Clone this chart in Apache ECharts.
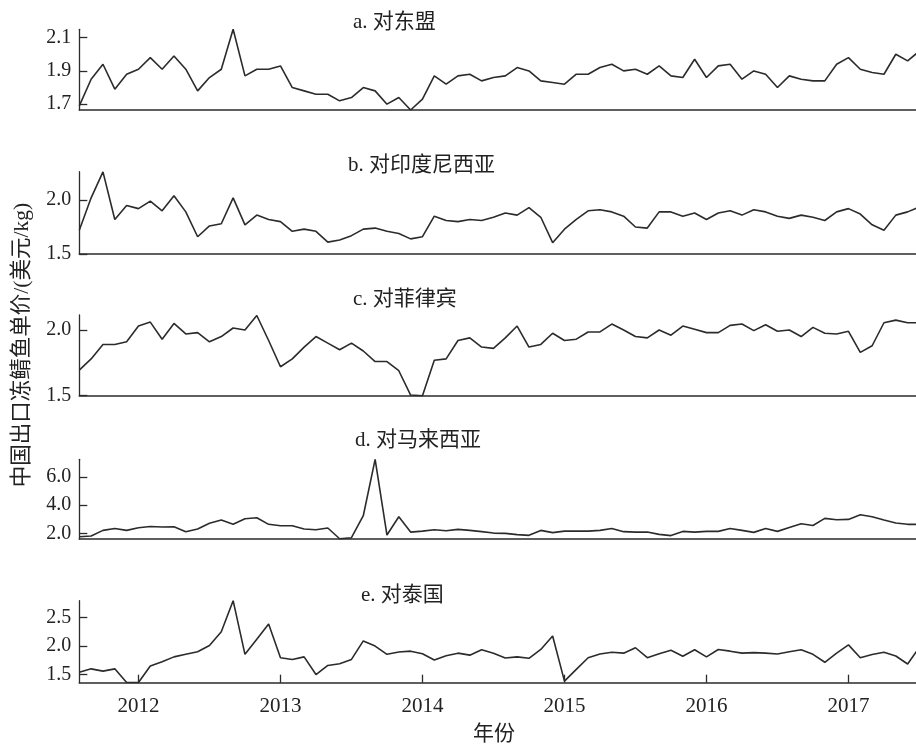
<!DOCTYPE html>
<html>
<head>
<meta charset="utf-8">
<script src="https://cdn.jsdelivr.net/npm/echarts@6/dist/echarts.min.js"></script>
<style>
  html, body { margin: 0; padding: 0; background: #fff; }
  #chart { width: 916px; height: 745px; }
</style>
</head>
<body>
<div id="chart"></div>
<script>
// Monthly observations, August 2011 to July 2017
const months = [];
for (let y = 2011, m = 8; months.length < 72; m++) {
  if (m > 12) { m = 1; y++; }
  months.push(y + '-' + String(m).padStart(2, '0'));
}

const yearLabels = ['2012', '2013', '2014', '2015', '2016', '2017'];

// Unit export price of frozen mackerel, USD/kg
const asean = [1.69,1.85,1.94,1.79,1.88,1.91,1.98,1.91,1.99,1.91,1.78,1.86,1.91,2.15,1.87,1.91,1.91,1.93,1.80,1.78,1.76,1.76,1.72,1.74,1.80,1.78,1.70,1.74,1.665,1.73,1.87,1.82,1.87,1.88,1.84,1.86,1.87,1.92,1.90,1.84,1.83,1.82,1.88,1.88,1.92,1.94,1.90,1.91,1.88,1.93,1.87,1.86,1.97,1.86,1.93,1.94,1.85,1.90,1.88,1.80,1.87,1.85,1.84,1.84,1.94,1.98,1.91,1.89,1.88,2.00,1.96,2.02];
const indonesia = [1.72,2.02,2.26,1.82,1.95,1.92,1.99,1.90,2.04,1.89,1.66,1.76,1.78,2.02,1.77,1.86,1.82,1.80,1.71,1.73,1.71,1.61,1.63,1.67,1.73,1.74,1.71,1.69,1.64,1.66,1.85,1.81,1.80,1.82,1.81,1.84,1.88,1.86,1.93,1.84,1.605,1.73,1.82,1.90,1.91,1.89,1.85,1.75,1.74,1.89,1.89,1.85,1.88,1.82,1.88,1.90,1.86,1.91,1.89,1.85,1.83,1.86,1.84,1.81,1.89,1.92,1.87,1.77,1.72,1.86,1.89,1.935];
const philippines = [1.695,1.78,1.89,1.89,1.91,2.03,2.06,1.93,2.05,1.97,1.98,1.91,1.95,2.015,2.00,2.11,1.92,1.72,1.78,1.87,1.95,1.90,1.85,1.90,1.84,1.76,1.76,1.69,1.505,1.50,1.77,1.78,1.92,1.94,1.87,1.86,1.94,2.03,1.87,1.89,1.975,1.92,1.93,1.985,1.985,2.045,2.00,1.95,1.94,2.00,1.96,2.03,2.005,1.98,1.98,2.035,2.045,1.995,2.04,1.99,2.00,1.95,2.02,1.975,1.97,1.99,1.83,1.88,2.055,2.075,2.055,2.055];
const malaysia = [1.76,1.81,2.21,2.35,2.21,2.40,2.49,2.45,2.47,2.12,2.31,2.71,2.94,2.64,3.04,3.11,2.64,2.54,2.54,2.31,2.26,2.38,1.62,1.69,3.25,7.25,1.88,3.18,2.09,2.16,2.26,2.19,2.28,2.21,2.12,2.02,2.00,1.91,1.86,2.21,2.05,2.16,2.16,2.16,2.21,2.35,2.12,2.09,2.09,1.93,1.84,2.14,2.09,2.14,2.14,2.35,2.21,2.07,2.35,2.14,2.42,2.68,2.56,3.06,2.96,2.99,3.32,3.18,2.94,2.73,2.64,2.64];
const thailand = [1.54,1.60,1.56,1.60,1.36,1.36,1.65,1.725,1.81,1.855,1.90,2.01,2.25,2.795,1.855,2.12,2.385,1.795,1.765,1.81,1.50,1.66,1.69,1.765,2.09,2.00,1.855,1.895,1.91,1.865,1.755,1.83,1.875,1.84,1.935,1.875,1.79,1.81,1.785,1.94,2.175,1.385,1.59,1.795,1.86,1.89,1.875,1.97,1.795,1.865,1.925,1.82,1.935,1.81,1.94,1.91,1.875,1.885,1.875,1.86,1.90,1.935,1.855,1.715,1.875,2.02,1.795,1.85,1.89,1.825,1.685,1.98];

// Panel titles and y tick values
const titles = ['a. 对东盟', 'b. 对印度尼西亚', 'c. 对菲律宾', 'd. 对马来西亚', 'e. 对泰国'];
const seriesValues = [asean, indonesia, philippines, malaysia, thailand];
const yTicks = [[1.7, 1.9, 2.1], [1.5, 2.0], [1.5, 2.0], [2.0, 4.0, 6.0], [1.5, 2.0, 2.5]];
const yRanges = [[1.665, 2.15], [1.5, 2.262], [1.5, 2.114], [1.6, 7.25], [1.357, 2.795]];

// Layout of the five stacked panels (pixels)
const layout = [
  { top: 29.3, height: 80.7, tx: 353, ty: 22 },
  { top: 171.7, height: 82.3, tx: 348, ty: 165 },
  { top: 315, height: 80.7, tx: 353, ty: 299 },
  { top: 459.3, height: 79.7, tx: 355, ty: 440 },
  { top: 600.7, height: 82, tx: 361, ty: 595 }
];
const plotLeft = 79.3;
const plotWidth = 836.7;
const monthWidth = 142 / 12;

const FONT = "'Liberation Serif', 'Noto Sans CJK SC', serif";
const INK = '#2b2b2b';
const yearTicks = months.map((m, i) => m.endsWith('-01') ? i : -1).filter(i => i >= 0);

const grids = [], xAxes = [], yAxes = [], series = [], graphics = [];

layout.forEach((L, k) => {
  const last = k === layout.length - 1;
  grids.push({ left: plotLeft, width: plotWidth, top: L.top, height: L.height });
  xAxes.push({
    type: 'value', gridIndex: k, min: 0, max: plotWidth / monthWidth,
    axisLine: { show: true, lineStyle: { color: INK, width: 1.6 } },
    axisTick: { show: last, inside: true, length: 8, customValues: yearTicks, lineStyle: { color: INK, width: 1.3 } },
    axisLabel: {
      show: last, customValues: yearTicks, margin: 13,
      color: '#222', fontFamily: FONT, fontSize: 21,
      formatter: v => yearLabels[yearTicks.indexOf(Math.round(v))] || ''
    },
    splitLine: { show: false }
  });
  yAxes.push({
    type: 'value', gridIndex: k, min: yRanges[k][0], max: yRanges[k][1],
    axisLine: { show: true, lineStyle: { color: INK, width: 1.3 } },
    axisTick: { show: true, inside: true, length: 8, customValues: yTicks[k], lineStyle: { color: INK, width: 1.3 } },
    axisLabel: {
      customValues: yTicks[k], margin: 8,
      color: '#222', fontFamily: FONT, fontSize: 20,
      formatter: v => Number(v).toFixed(1)
    },
    splitLine: { show: false }
  });
  series.push({
    type: 'line', xAxisIndex: k, yAxisIndex: k,
    data: seriesValues[k].map((v, i) => [i, v]),
    symbol: 'none', clip: true,
    lineStyle: { color: INK, width: 1.6 }
  });
  graphics.push({
    type: 'text', x: L.tx, y: L.ty,
    style: { text: titles[k], font: '21px ' + FONT, fill: '#222', align: 'left', verticalAlign: 'middle' }
  });
});

graphics.push({
  type: 'text', x: 22, y: 345, rotation: Math.PI / 2,
  style: { text: '中国出口冻鲭鱼单价/(美元/kg)', font: '21.5px ' + FONT, fill: '#222', align: 'center', verticalAlign: 'middle' }
});
graphics.push({
  type: 'text', x: 494, y: 734,
  style: { text: '年份', font: '21px ' + FONT, fill: '#222', align: 'center', verticalAlign: 'middle' }
});

const chart = echarts.init(document.getElementById('chart'), null, { renderer: 'canvas' });
chart.setOption({
  animation: false,
  backgroundColor: '#fff',
  grid: grids,
  xAxis: xAxes,
  yAxis: yAxes,
  series: series,
  graphic: graphics
});
</script>
</body>
</html>
